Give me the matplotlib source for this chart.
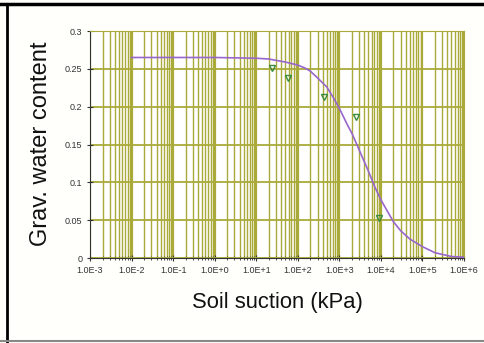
import matplotlib.pyplot as plt
from matplotlib.ticker import LogLocator, FixedLocator, FuncFormatter

plt.rcParams['font.family'] = ['Liberation Sans', 'DejaVu Sans']

# fitted curve
curve_x = [1e-2, 1e0, 1e1, 2e1, 5e1, 1e2, 1.5e2, 2e2, 3e2, 5e2, 7e2, 1e3, 1.5e3, 2e3, 3e3,
           5e3, 7e3, 1e4, 1.5e4, 2e4, 3e4, 5e4, 1e5, 2e5, 5e5, 1e6]
curve_y = [0.265, 0.265, 0.264, 0.263, 0.259, 0.255, 0.251, 0.247, 0.238, 0.226, 0.213,
           0.198, 0.178, 0.165, 0.143, 0.115, 0.095, 0.077, 0.060, 0.048, 0.036, 0.025,
           0.015, 0.007, 0.002, 0.001]

# measured points
meas_x = [24.5, 59, 424, 2570, 9000]
meas_y = [0.251, 0.238, 0.213, 0.186, 0.0525]

y_ticks = [0, 0.05, 0.1, 0.15, 0.2, 0.25, 0.3]
olive = '#aaaa3a'


def sci_label(v, pos):
    return ('%.1E' % v).replace('E-0', 'E-').replace('E+0', 'E+')


fig = plt.figure(figsize=(4.85, 3.43), dpi=100, facecolor='#fffffb')
ax = fig.add_axes([0.1856, 0.2478, 0.771, 0.6618])
ax.set_facecolor('white')

ax.set_xscale('log')
ax.set_xlim(1e-3, 1e6)
ax.set_ylim(0, 0.3)

ax.xaxis.set_major_locator(LogLocator(base=10, numticks=20))
ax.xaxis.set_minor_locator(LogLocator(base=10, subs=range(2, 10), numticks=20))
ax.xaxis.set_major_formatter(FuncFormatter(sci_label))
ax.yaxis.set_major_locator(FixedLocator(y_ticks))
ax.yaxis.set_major_formatter(FuncFormatter(lambda v, p: '%g' % v))

ax.grid(True, which='major', axis='x', color=olive, lw=1.6)
ax.grid(True, which='minor', axis='x', color=olive, lw=1.0)
ax.grid(True, which='major', axis='y', color=olive, lw=1.3)
ax.set_axisbelow(True)

ax.plot(curve_x, curve_y, color='#9966cc', lw=1.2, zorder=3)
ax.plot(meas_x, meas_y, 'v', ms=5, mfc='none', mec='#3a8a3a', mew=1.0, zorder=4)

for s in ['top', 'right']:
    ax.spines[s].set_color(olive)
for s in ['left', 'bottom']:
    ax.spines[s].set_color('#333333')

ax.tick_params(axis='both', which='major', labelsize=6.5, direction='inout', length=5,
               width=0.8, color='#333333', labelcolor='#333333', pad=3)
ax.tick_params(axis='x', which='minor', direction='inout', length=3, width=0.6, color='#333333')
ax.tick_params(axis='y', which='minor', left=False)

fig.text(0.085, 0.582, 'Grav. water content', rotation=90, fontsize=17,
         ha='center', va='center', color='#111111')
fig.text(0.573, 0.117, 'Soil suction (kPa)', fontsize=15.8, ha='center', va='center',
         color='#111111')

# outer frame
fig.add_artist(plt.Line2D([0.0, 1.0], [0.988, 0.988], color='black', lw=2.5,
                          transform=fig.transFigure))
fig.add_artist(plt.Line2D([0.0145, 0.0145], [0.0, 0.988], color='black', lw=2.0,
                          transform=fig.transFigure))
fig.add_artist(plt.Line2D([0.0, 1.0], [0.006, 0.006], color='#888888', lw=1.5,
                          transform=fig.transFigure))

fig.savefig('out.png', dpi=100, facecolor=fig.get_facecolor())
